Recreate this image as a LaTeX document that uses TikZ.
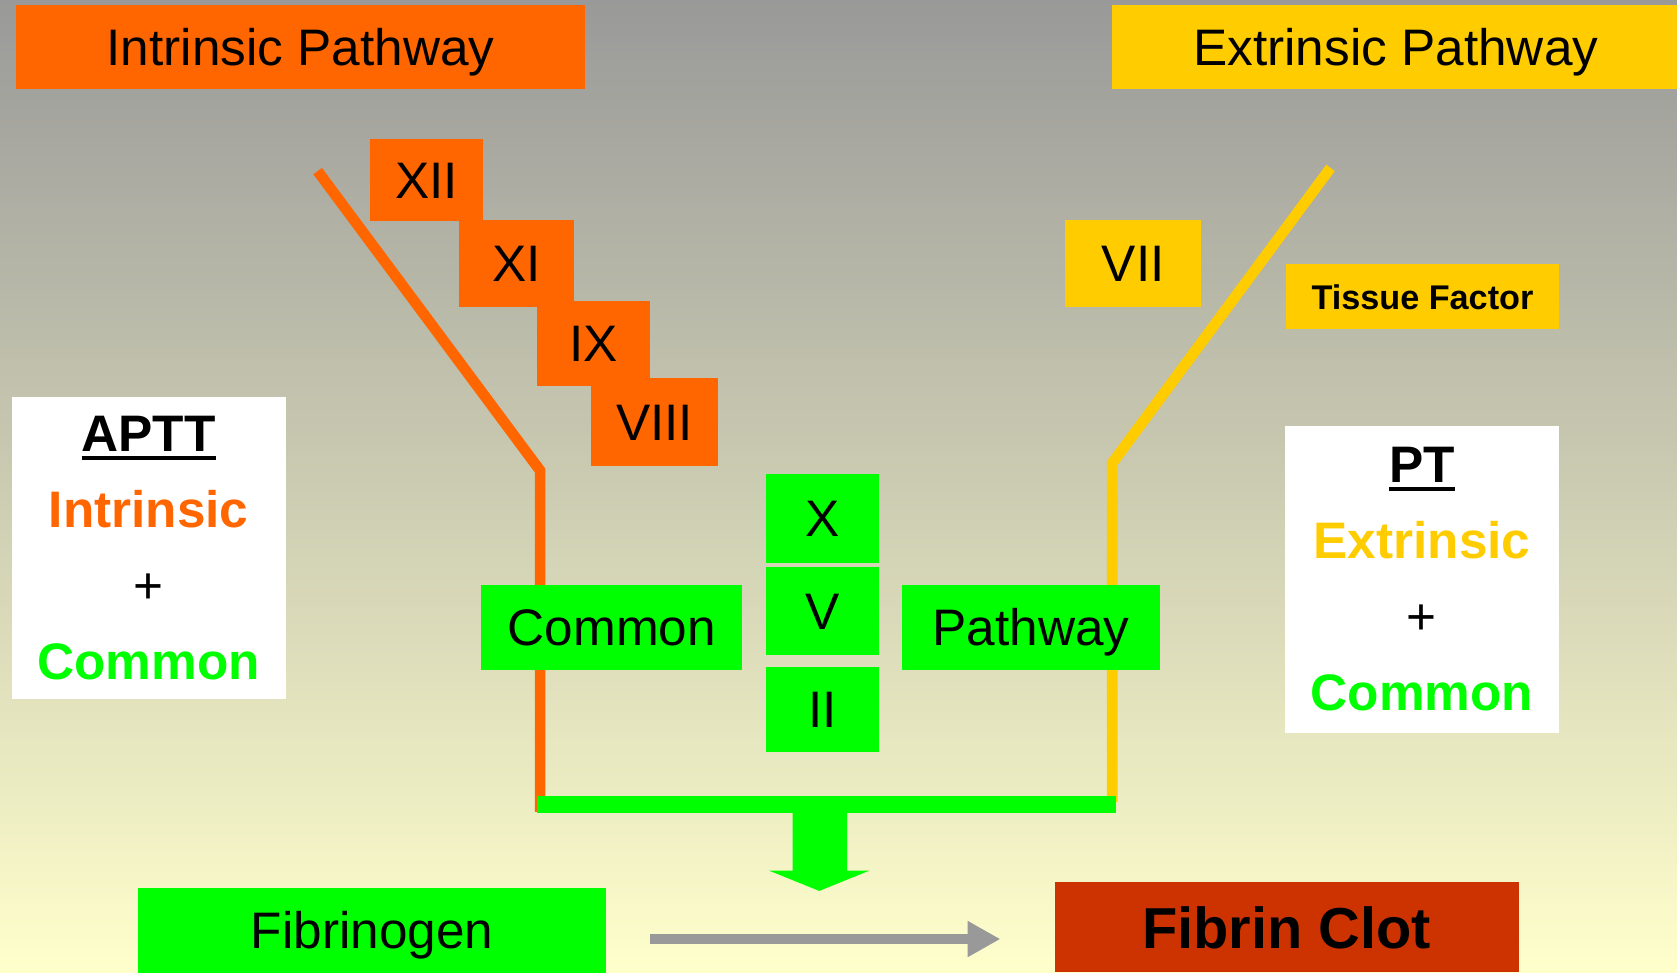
\documentclass[tikz,border=0pt]{standalone}
\usepackage{fontspec}
\setmainfont{Liberation Sans}
\usetikzlibrary{arrows.meta,positioning}

\definecolor{intrinsic}{HTML}{FF6600}
\definecolor{extrinsic}{HTML}{FFCC00}
\definecolor{common}{HTML}{00FF00}
\definecolor{clot}{HTML}{CC3300}
\definecolor{arrowgray}{HTML}{999999}
\definecolor{bgtop}{HTML}{999999}
\definecolor{bgbottom}{HTML}{FFFFCC}

\newcommand\factorfont{\fontsize{48}{58}\selectfont}
\newcommand\clotfont{\bfseries\fontsize{54}{64}\selectfont}
\newcommand\tissuefont{\bfseries\fontsize{32}{38}\selectfont}
\newcommand\testfont{\bfseries\fontsize{48}{71}\selectfont}
\newcommand\ulbox[1]{\setbox0\hbox{#1}\rlap{\rule[-8pt]{\wd0}{3.5pt}}\box0}

\tikzset{
    %Define style for boxes
    box/.style={
           rectangle,
           inner sep=0pt,
           text centered,
           font=\factorfont,
           text height=34pt,
           text depth=0pt},
    intrbox/.style={box, fill=intrinsic},
    extrbox/.style={box, fill=extrinsic},
    commbox/.style={box, fill=common},
    testbox/.style={
           rectangle,
           fill=white,
           inner sep=0pt,
           align=center,
           font=\testfont,
           minimum width=256pt},
    % Define line styles
    intrline/.style={
           draw=intrinsic,
           line width=10pt,
           line join=miter},
    extrline/.style={
           draw=extrinsic,
           line width=10pt,
           line join=miter},
    commonbar/.style={
           draw=common,
           line width=16pt},
    grayarr/.style={
           -{Triangle[length=30pt,width=34pt,line width=0pt]},
           draw=arrowgray,
           fill=arrowgray,
           line width=9pt,
           shorten <=41pt,
           shorten >=51pt}
}

\begin{document}
\begin{tikzpicture}[x=1pt,y=-1pt]
  \useasboundingbox (0,0) rectangle (1568,909);
  \shade[top color=bgtop, bottom color=bgbottom] (0,0) rectangle (1568,909);

  % pathway lines
  \coordinate (intr-top) at (297,160);
  \coordinate (intr-bend) at (505,440);
  \coordinate (intr-foot) at (505,759);
  \coordinate (extr-top) at (1244,157);
  \coordinate (extr-bend) at (1040,433);
  \coordinate (extr-foot) at (1040,750);
  \draw[intrline] (intr-top) -- (intr-bend) -- (intr-foot);
  \draw[extrline] (extr-top) -- (extr-bend) -- (extr-foot);

  \coordinate (bar-west) at (502,752);
  \coordinate (bar-east) at (1043,752);
  \draw[commonbar] (bar-west) -- (bar-east);

  \coordinate (drop-top) at (766,758);
  \fill[common] (drop-top) +(-25,0) -- +(26,0) -- +(26,56) -- +(47,56)
    -- +(0,75) -- +(-47,56) -- +(-25,56) -- cycle;

  % headers
  \node[intrbox, minimum width=532pt, minimum height=78pt] (intrinsic) at (281,44) {Intrinsic Pathway};
  \node[extrbox, minimum width=530pt, minimum height=78pt] (extrinsic) at (1305,44) {Extrinsic Pathway};

  % intrinsic factors
  \node[intrbox, minimum width=106pt, minimum height=77pt] (xii) at (399,168.5) {XII};
  \node[intrbox, minimum width=108pt, minimum height=81pt] (xi) at (483,246.5) {XI};
  \node[intrbox, minimum width=106pt, minimum height=80pt] (ix) at (555,321) {IX};
  \node[intrbox, minimum width=118pt, minimum height=83pt] (viii) at (612,394.5) {VIII};

  % extrinsic factors
  \node[extrbox, minimum width=127pt, minimum height=81pt] (vii) at (1059.5,246.5) {VII};
  \node[extrbox, font=\tissuefont, text height=23pt, minimum width=256pt, minimum height=61pt] (tissue) at (1330,277.5) {Tissue Factor};

  % common pathway
  \node[commbox, minimum width=106pt, minimum height=83pt] (x) at (769,484.5) {X};
  \node[commbox, minimum width=106pt, minimum height=82pt, below=4pt of x] (v) {V};
  \node[commbox, minimum width=106pt, minimum height=79pt, below=11pt of v] (ii) {II};
  \node[commbox, minimum width=244pt, minimum height=79pt] (common) at (572,586.5) {Common};
  \node[commbox, minimum width=242pt, minimum height=79pt] (pathway) at (964,586.5) {Pathway};

  % tests
  \node[testbox, minimum height=283pt] (aptt) at (139,512.5)
    {\ulbox{APTT}\\ \textcolor{intrinsic}{Intrinsic}\\ {\mdseries +}\\ \textcolor{common}{Common}};
  \node[testbox, minimum height=287pt] (pt) at (1329.5,541.5)
    {\ulbox{PT}\\ \textcolor{extrinsic}{Extrinsic}\\ {\mdseries +}\\ \textcolor{common}{Common}};

  % clot formation
  \node[commbox, minimum width=438pt, minimum height=80pt] (fibrinogen) at (348,870) {Fibrinogen};
  \node[box, fill=clot, font=\clotfont, text height=39pt, minimum width=434pt, minimum height=84pt] (fibrin) at (1203,867) {Fibrin Clot};

  \draw[grayarr] ([yshift=-8pt]fibrinogen.east) -- ([yshift=-11pt]fibrin.west);
\end{tikzpicture}
\end{document}
